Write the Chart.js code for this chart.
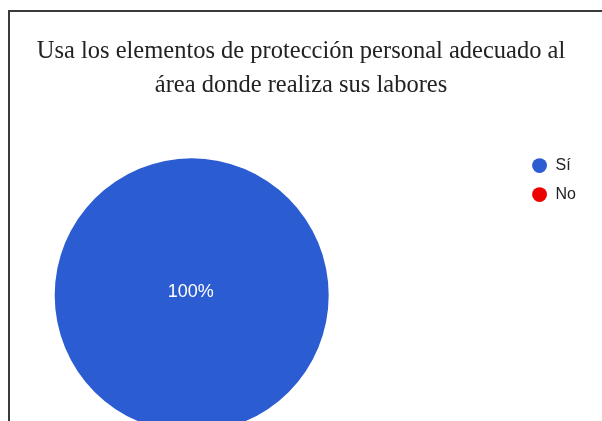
<!DOCTYPE html>
<html>
<head>
<meta charset="utf-8">
<script src="https://cdn.jsdelivr.net/npm/chart.js@4/dist/chart.umd.min.js"></script>
<style>
  html, body { margin: 0; padding: 0; background: #fff; overflow: hidden; }
  #wrap { position: relative; width: 602px; height: 421px; overflow: hidden; }
  #marco { position: absolute; left: 8px; top: 10px; right: 0; bottom: 0;
           border-left: 2px solid #3a3a3a; border-top: 2px solid #3a3a3a; pointer-events: none; }
  canvas { position: absolute; left: 0; top: 0; }
</style>
</head>
<body>
<div id="wrap">
  <canvas id="grafico" width="602" height="446"></canvas>
  <div id="marco"></div>
</div>
<script>
// Datos del gráfico
const titulo = ['Usa los elementos de protección personal adecuado al', 'área donde realiza sus labores'];
const respuestas = ['Sí', 'No'];
const valores = [100, 0];
const colores = ['#2c5cd2', '#ec0000'];

// El área del pastel es cuadrada y queda a la izquierda (como en Google Forms)
const areaCuadrada = {
  id: 'areaCuadrada',
  afterLayout(chart, args, opts) {
    const a = chart.chartArea;
    a.left += opts.margen || 0;
    a.right = a.left + (a.bottom - a.top);
    a.width = a.right - a.left;
    a.height = a.bottom - a.top;
  }
};

// Porcentaje dentro de cada porción
const etiquetas = {
  id: 'etiquetas',
  afterDatasetsDraw(chart) {
    const ctx = chart.ctx;
    const meta = chart.getDatasetMeta(0);
    const total = valores.reduce((acc, v) => acc + v, 0);
    ctx.save();
    ctx.fillStyle = '#ffffff';
    ctx.font = '18px "Liberation Sans", Arial, sans-serif';
    ctx.textAlign = 'center';
    ctx.textBaseline = 'middle';
    meta.data.forEach((arc, i) => {
      if (!valores[i]) return;
      const pct = Math.round(valores[i] / total * 100) + '%';
      let pos;
      if (valores[i] === total) pos = { x: arc.x, y: arc.y };
      else pos = arc.tooltipPosition();
      ctx.fillText(pct, pos.x - 1, pos.y - 3);
    });
    ctx.restore();
  }
};

new Chart(document.getElementById('grafico'), {
  type: 'pie',
  data: {
    labels: respuestas,
    datasets: [{
      data: valores,
      backgroundColor: colores,
      borderWidth: 0,
      radius: 137
    }]
  },
  options: {
    responsive: false,
    animation: false,
    layout: { padding: { left: 16, right: 16, top: 0, bottom: 0 } },
    plugins: {
      areaCuadrada: { margen: 25 },
      title: {
        display: true,
        text: titulo,
        color: '#222',
        font: { family: '"Liberation Serif", "Times New Roman", serif', size: 24.5, weight: 'normal', lineHeight: 1.4 },
        padding: { top: 34.5, bottom: 41.5 }
      },
      legend: {
        position: 'right',
        align: 'start',
        fullSize: false,
        labels: {
          usePointStyle: true,
          pointStyle: 'circle',
          boxWidth: 16,
          boxHeight: 10.5,
          padding: 13,
          color: '#222',
          font: { family: '"Liberation Sans", Arial, sans-serif', size: 16 }
        }
      },
      tooltip: { enabled: false }
    }
  },
  plugins: [areaCuadrada, etiquetas]
});
</script>
</body>
</html>
